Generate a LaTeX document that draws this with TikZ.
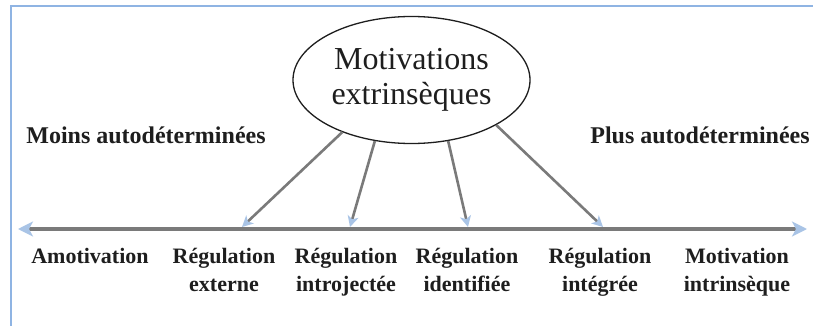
\documentclass[tikz,border=0pt]{standalone}
\usepackage{fontspec}
\setmainfont{Liberation Serif}
\usetikzlibrary{shapes.geometric,arrows.meta}

\definecolor{framecol}{HTML}{8FB4E3}
\definecolor{tipblue}{HTML}{A9C4E6}
\definecolor{axisgray}{HTML}{7A7A7A}
\definecolor{inkcol}{HTML}{1E1E1E}

\begin{document}
\begin{tikzpicture}[x=1pt, y=-1pt,
    axis/.style={axisgray, line width=4pt, {Stealth[length=15pt, width=15pt, inset=4pt, color=tipblue]}-{Stealth[length=15pt, width=15pt, inset=4pt, color=tipblue]}},
    pointer/.style={axisgray, line width=2.6pt, -{Stealth[length=11pt, width=11pt, inset=3pt, color=tipblue]}},
    stage/.style={inkcol, anchor=north, align=center, font=\bfseries\fontsize{22}{28}\selectfont},
    side/.style={inkcol, anchor=base, font=\bfseries\fontsize{24}{28}\selectfont}]
    \useasboundingbox (0,0) rectangle (813,326);
    \fill[white] (0,0) rectangle (813,326);
    \draw[framecol, line width=1.3pt] (11,326) -- (11,6) -- (813,6);

    \node[ellipse, draw, line width=1.3pt, minimum width=237pt, minimum height=127pt, inner sep=0pt, align=center, inkcol, font=\fontsize{32}{35}\selectfont] (extr) at (411.5,80) {Motivations\\extrinsèques};

    \node[side] (moins) at (146,143) {Moins autodéterminées};
    \node[side] (plus) at (700,143) {Plus autodéterminées};

    \coordinate (left) at (18,229);
    \coordinate (right) at (807,229);
    \draw[axis] (left) -- (right);

    \coordinate (ext) at (242,227);
    \coordinate (intro) at (350,227);
    \coordinate (ident) at (468,227);
    \coordinate (integ) at (603,227);
    \foreach \a/\t in {-143/ext, -121/intro, -59/ident, -28/integ}
    \draw[pointer] (extr.\a) -- (\t);

    \node[stage] (amot) at (90,245) {Amotivation};
    \node[stage] (rext) at (224,245) {Régulation\\externe};
    \node[stage] (rintro) at (346,245) {Régulation\\introjectée};
    \node[stage] (rident) at (467,245) {Régulation\\identifiée};
    \node[stage] (rinteg) at (600,245) {Régulation\\intégrée};
    \node[stage] (intr) at (737,245) {Motivation\\intrinsèque};
\end{tikzpicture}
\end{document}
